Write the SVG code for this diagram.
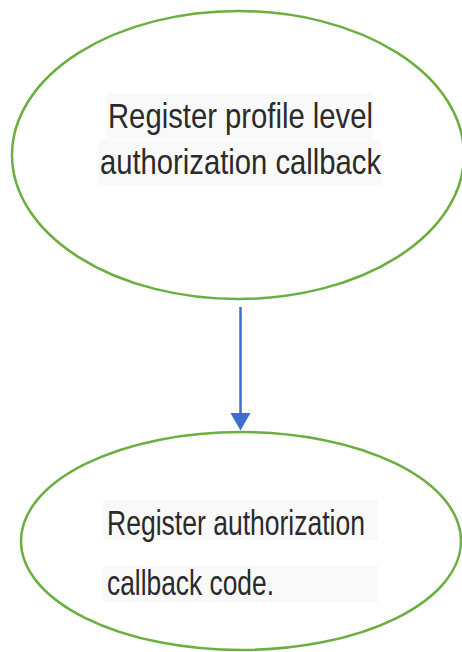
<svg xmlns="http://www.w3.org/2000/svg" width="462" height="652" viewBox="0 0 462 652">
<style>
.node{fill:#ffffff;stroke:#6aaf3f;stroke-width:2.5}
.hl{fill:#f9f9f9}
.lbl{font-family:"Liberation Sans",Arial,sans-serif;font-size:35px;fill:#2b2b2b}
.edge{stroke:#3b6fd1;stroke-width:2.5;fill:none}
</style>
<defs>
<marker id="arr" markerWidth="7" markerHeight="8" refX="6" refY="4" orient="auto" markerUnits="strokeWidth">
<path d="M0,0 L7,4 L0,8 z" fill="#3b6fd1"/>
</marker>
</defs>
<rect width="462" height="652" fill="#ffffff"/>
<g id="node-register-profile">
<ellipse class="node" cx="238" cy="155" rx="226" ry="144"/>
<rect class="hl" x="106" y="93" width="267" height="46"/>
<rect class="hl" x="98" y="140" width="284" height="45"/>
<text class="lbl" x="108" y="128" textLength="265" lengthAdjust="spacingAndGlyphs">Register profile level</text>
<text class="lbl" x="100" y="174" textLength="281" lengthAdjust="spacingAndGlyphs">authorization callback</text>
</g>
<g id="node-register-code">
<ellipse class="node" cx="241" cy="541" rx="220" ry="109"/>
<rect class="hl" x="103" y="500" width="275" height="40"/>
<rect class="hl" x="103" y="565" width="275" height="38"/>
<text class="lbl" x="107" y="535" textLength="258" lengthAdjust="spacingAndGlyphs">Register authorization</text>
<text class="lbl" x="107" y="595" textLength="167" lengthAdjust="spacingAndGlyphs">callback code.</text>
</g>
<g id="connectors">
<line class="edge" x1="240.5" y1="307" x2="240.5" y2="428" marker-end="url(#arr)"/>
</g>
</svg>
